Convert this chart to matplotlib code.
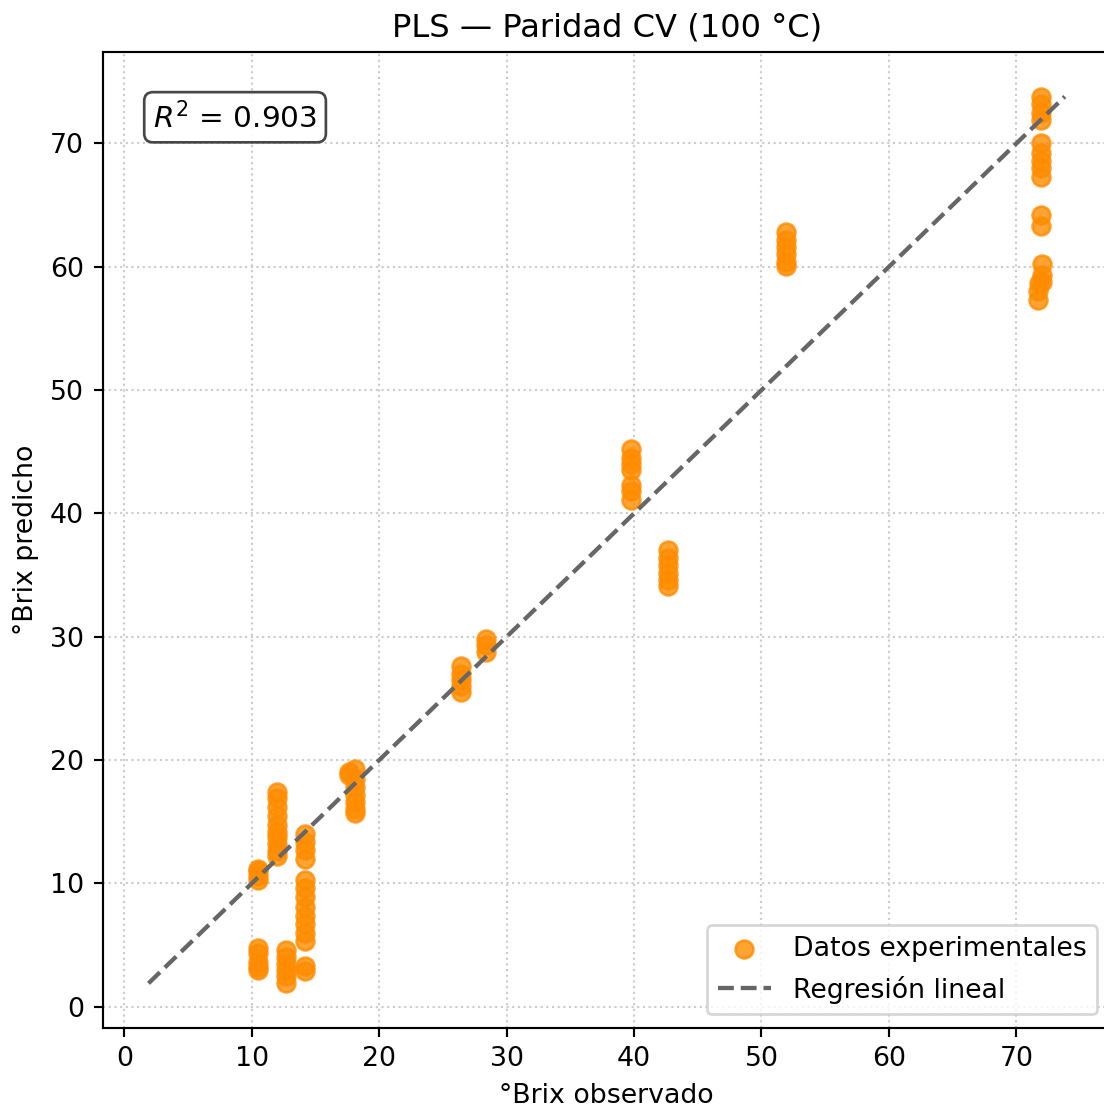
import numpy as np
import matplotlib
matplotlib.use("Agg")
import matplotlib.pyplot as plt

# ============================================================
# Data (observed vs CV-predicted °Brix)
# ============================================================

obs_a = [10.5] * 9
pred_a = [11.2, 11.0, 10.6, 10.3, 4.8, 4.4, 3.6, 3.2, 3.0]

obs_b = [12.0] * 10
pred_b = [17.4, 16.9, 16.2, 15.5, 14.7, 14.2, 13.8, 13.2, 12.6, 12.2]

obs_c = [12.7] * 6
pred_c = [4.6, 4.0, 3.5, 3.0, 2.5, 1.9]

obs_d = [14.2] * 14
pred_d = [14.0, 13.4, 12.7, 12.0, 10.3, 9.6, 8.9, 8.1, 7.4, 6.7, 6.0, 5.3, 3.3, 2.9]

obs_e = [17.6, 17.6, 18.1, 18.1, 18.1, 18.1, 18.1, 18.1, 18.1]
pred_e = [19.0, 18.8, 19.3, 18.5, 17.8, 17.2, 16.6, 16.0, 15.7]

obs_f = [26.4] * 5
pred_f = [27.6, 27.0, 26.5, 26.0, 25.5]

obs_g = [28.4] * 3
pred_g = [29.8, 29.3, 28.8]

obs_h = [39.8] * 7
pred_h = [45.2, 44.5, 44.0, 43.5, 42.3, 41.8, 41.1]

obs_i = [42.7] * 6
pred_i = [37.0, 36.4, 35.8, 35.2, 34.6, 34.1]

obs_j = [51.9] * 6
pred_j = [62.8, 62.2, 61.6, 61.0, 60.4, 60.1]

obs_k = [71.9] * 11 + [72.0, 72.0, 71.8, 71.7, 71.7, 72.0]
pred_k = [73.8, 73.2, 72.5, 71.9, 70.0, 69.2, 68.6, 68.0, 67.3, 64.2, 63.3,
          60.2, 59.3, 58.7, 58.0, 57.3, 58.8]

observed = np.array(obs_a + obs_b + obs_c + obs_d + obs_e + obs_f + obs_g
                    + obs_h + obs_i + obs_j + obs_k)
predicted = np.array(pred_a + pred_b + pred_c + pred_d + pred_e + pred_f + pred_g
                     + pred_h + pred_i + pred_j + pred_k)

R2 = 0.903

# ============================================================
# Figure
# ============================================================

DPI = 193
fig = plt.figure(figsize=(1104 / DPI, 1111 / DPI), dpi=DPI)
ax = fig.add_axes([0.093, 0.075, 0.913, 0.878])

ax.scatter(observed, predicted, s=44, color="darkorange", alpha=0.8,
           label="Datos experimentales", zorder=2)

lo = min(observed.min(), predicted.min())
hi = max(observed.max(), predicted.max())
ax.plot([lo, hi], [lo, hi], linestyle="--", color="#666666", linewidth=1.6,
        label="Regresión lineal", zorder=3)

ax.grid(True, linestyle=":", color="0.8", linewidth=0.8)
ax.set_axisbelow(True)

ax.set_xlabel("°Brix observado")
ax.set_ylabel("°Brix predicho")
ax.set_title("PLS — Paridad CV (100 °C)", fontsize=12)

ax.text(0.05, 0.95, f"$R^2$ = {R2:.3f}", transform=ax.transAxes,
        fontsize=11, va="top", ha="left",
        bbox=dict(boxstyle="round,pad=0.3", facecolor="white",
                  edgecolor="0.2", alpha=0.9))

ax.legend(loc="lower right", fontsize=10)

fig.savefig("out.png", dpi=DPI)
